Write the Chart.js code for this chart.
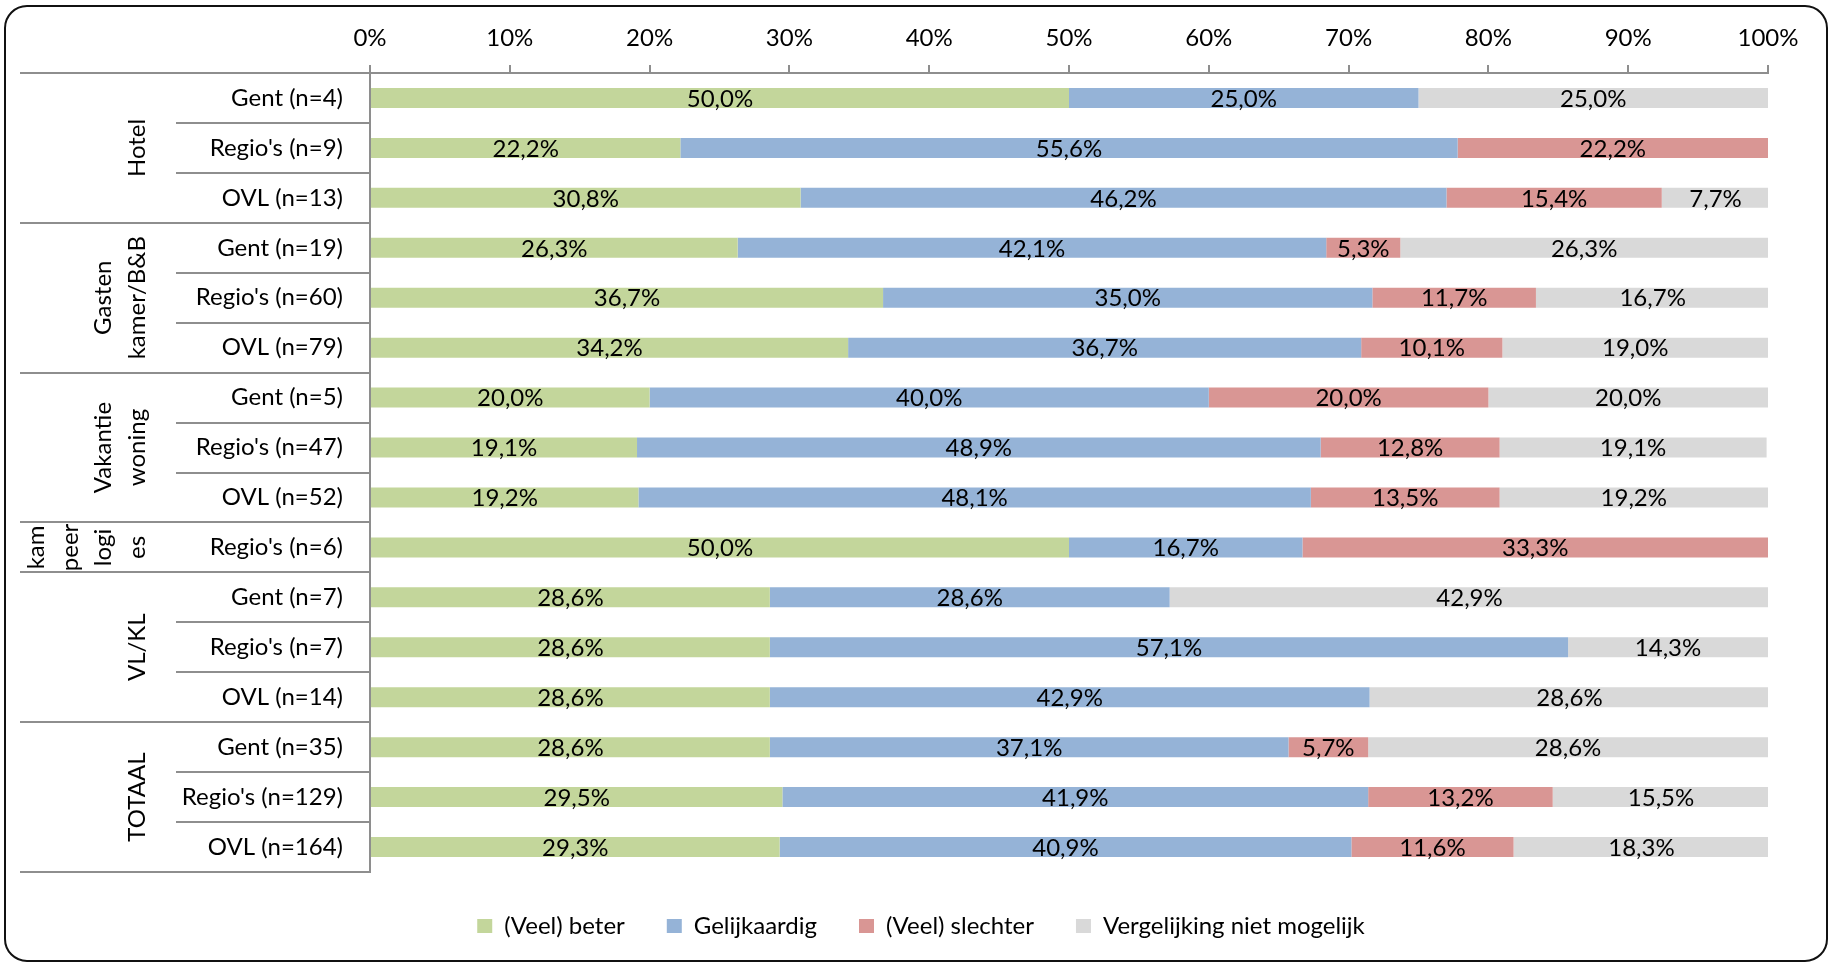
<!DOCTYPE html>
<html><head><meta charset="utf-8">
<script src="https://cdn.jsdelivr.net/npm/chart.js@4.4.1/dist/chart.umd.min.js"></script>
<style>html,body{margin:0;padding:0;background:#fff;overflow:hidden}canvas{display:block}</style>
</head><body>
<canvas id="c" width="1829" height="964"></canvas>
<script>
const categories = ["Gent (n=4)","Regio's (n=9)","OVL (n=13)","Gent (n=19)","Regio's (n=60)","OVL (n=79)","Gent (n=5)","Regio's (n=47)","OVL (n=52)","Regio's (n=6)","Gent (n=7)","Regio's (n=7)","OVL (n=14)","Gent (n=35)","Regio's (n=129)","OVL (n=164)"];
const groupLabels = [["Hotel"],["Gasten","kamer/B&B"],["Vakantie","woning"],["kam","peer","logi","es"],["VL/KL"],["TOTAAL"]];
const groupSizes = [3,3,3,1,3,3];
const seriesNames = ["(Veel) beter","Gelijkaardig","(Veel) slechter","Vergelijking niet mogelijk"];
const beter = [50.0,22.2,30.8,26.3,36.7,34.2,20.0,19.1,19.2,50.0,28.6,28.6,28.6,28.6,29.5,29.3];
const gelijk = [25.0,55.6,46.2,42.1,35.0,36.7,40.0,48.9,48.1,16.7,28.6,57.1,42.9,37.1,41.9,40.9];
const slechter = [0,22.2,15.4,5.3,11.7,10.1,20.0,12.8,13.5,33.3,0,0,0,5.7,13.2,11.6];
const nietMogelijk = [25.0,0,7.7,26.3,16.7,19.0,20.0,19.1,19.2,0,42.9,14.3,28.6,28.6,15.5,18.3];
const tickValues = [0,10,20,30,40,50,60,70,80,90,100];

const FONT = "Lato, 'Noto Sans', sans-serif";
const FS = 24;
const colors = ['#C3D69B','#95B3D7','#D99694','#D9D9D9'];
const lineCol = '#8E8E8E';

const frame = {
  id:'frame',
  afterLayout(chart){
    if (chart.legend) { chart.legend.left += 37; chart.legend.right += 37; }
  },
  beforeDraw(chart){
    const ctx = chart.ctx;
    ctx.save();
    ctx.fillStyle = '#fff';
    ctx.fillRect(0,0,chart.width,chart.height);
    ctx.restore();
  },
  afterDraw(chart){
    const ctx = chart.ctx;
    ctx.save();
    ctx.strokeStyle = '#111';
    ctx.lineWidth = 2;
    ctx.beginPath();
    ctx.roundRect(5,6,1822,955,22);
    ctx.stroke();
    ctx.restore();
  }
};

const groupsPlugin = {
  id:'groups',
  afterDraw(chart){
    const ctx = chart.ctx, y = chart.scales.y, ax = chart.chartArea.left;
    const step = y.getPixelForValue(1) - y.getPixelForValue(0);
    const bnd = i => y.getPixelForValue(i) - step/2;
    const groupStarts = [];
    let acc = 0;
    groupSizes.forEach(s => { groupStarts.push(acc); acc += s; });
    groupStarts.push(acc);
    ctx.save();
    ctx.strokeStyle = lineCol;
    ctx.lineWidth = 2;
    for (let i = 0; i <= categories.length; i++) {
      const isGroup = groupStarts.includes(i);
      const yy = Math.round(bnd(i));
      ctx.beginPath();
      ctx.moveTo(isGroup ? 20 : 176, yy);
      ctx.lineTo(ax, yy);
      ctx.stroke();
    }
    ctx.fillStyle = '#000';
    ctx.font = FS + 'px ' + FONT;
    ctx.textAlign = 'center';
    ctx.textBaseline = 'middle';
    groupLabels.forEach((lines, g) => {
      const cy = (bnd(groupStarts[g]) + bnd(groupStarts[g+1])) / 2;
      const n = lines.length;
      lines.forEach((t, k) => {
        const cx = 137 - (n - 1 - k) * 33.5;
        ctx.save();
        ctx.translate(cx, cy);
        ctx.rotate(-Math.PI/2);
        ctx.fillText(t, 0, 0);
        ctx.restore();
      });
    });
    ctx.restore();
  }
};

const valueLabels = {
  id:'valueLabels',
  afterDatasetsDraw(chart){
    const ctx = chart.ctx;
    ctx.save();
    ctx.fillStyle = '#000';
    ctx.font = FS + 'px ' + FONT;
    ctx.textAlign = 'center';
    ctx.textBaseline = 'middle';
    chart.data.datasets.forEach((ds, di) => {
      const meta = chart.getDatasetMeta(di);
      meta.data.forEach((el, i) => {
        const v = ds.data[i];
        if (!v) return;
        const p = el.getProps(['x','y','base'], true);
        ctx.fillText(v.toFixed(1).replace('.', ',') + '%', (p.x + p.base)/2, p.y + 1);
      });
    });
    ctx.restore();
  }
};

const seriesData = [beter, gelijk, slechter, nietMogelijk];
new Chart(document.getElementById('c'), {
  type:'bar',
  data:{
    labels: categories,
    datasets: seriesNames.map((n, i) => ({
      label:n, data:seriesData[i], backgroundColor:colors[i], borderWidth:0,
      barPercentage:0.4, categoryPercentage:1
    }))
  },
  options:{
    indexAxis:'y',
    responsive:false,
    animation:false,
    devicePixelRatio:1,
    layout:{padding:{top:0,left:0,right:61,bottom:16}},
    plugins:{
      legend:{
        position:'bottom',
        labels:{boxWidth:15, boxHeight:14, padding:42, color:'#000', font:{family:FONT, size:FS}}
      },
      tooltip:{enabled:false}
    },
    scales:{
      x:{
        position:'top', stacked:true, min:0, max:100,
        afterBuildTicks(s){ s.ticks = tickValues.map(v => ({value:v})); },
        afterFit(s){ s.height = 73; },
        grid:{drawOnChartArea:false, drawTicks:true, tickLength:8, color:lineCol, lineWidth:2},
        border:{display:true, color:lineCol, width:2},
        ticks:{callback:v => v + '%', color:'#000', padding:12, font:{family:FONT, size:FS}, maxRotation:0}
      },
      y:{
        stacked:true,
        afterFit(s){ s.width = 370; },
        grid:{display:false, drawTicks:false},
        border:{display:true, color:lineCol, width:2},
        ticks:{color:'#000', padding:27, font:{family:FONT, size:FS}}
      }
    }
  },
  plugins:[frame, groupsPlugin, valueLabels]
});
</script>
</body></html>
